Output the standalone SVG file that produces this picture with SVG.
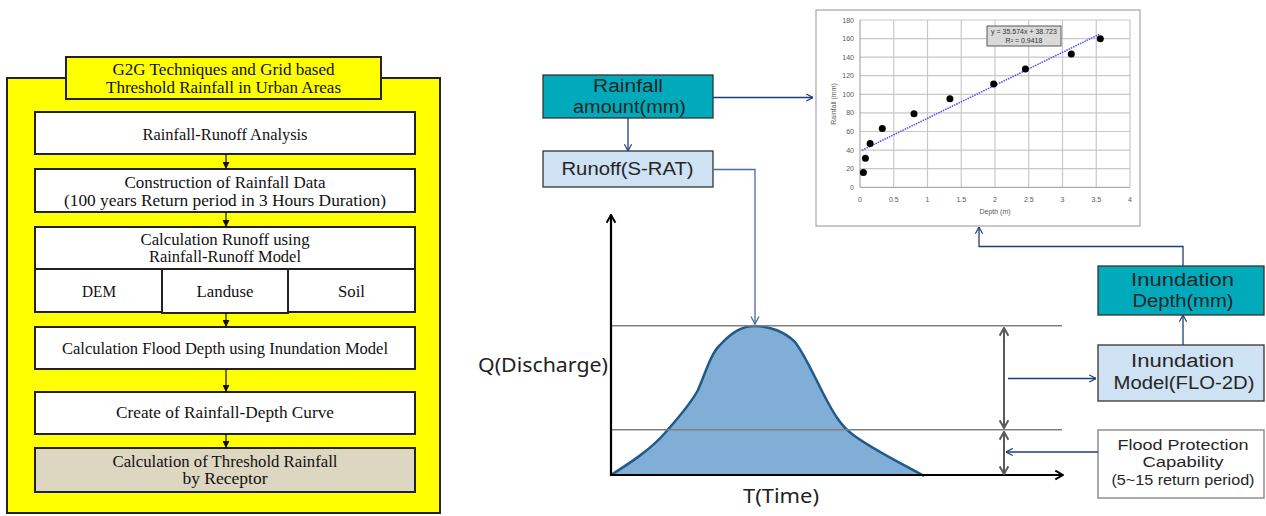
<svg xmlns="http://www.w3.org/2000/svg" width="1266" height="516" viewBox="0 0 1266 516">
<defs>
<style>
.lt{font-family:"Liberation Serif","Times New Roman",serif;font-size:16px;fill:#111;text-anchor:middle}
.bx{fill:#fff;stroke:#222;stroke-width:2}
.rt{font-family:"Liberation Sans",Arial,sans-serif;fill:#262626;text-anchor:middle}
.ax{font-family:"Noto Sans","DejaVu Sans",sans-serif;fill:#222;text-anchor:middle;font-size:20px}
.ct{font-family:"Liberation Sans",Arial,sans-serif;font-size:7px;fill:#595959}
.grid{stroke:#c8c8c8;stroke-width:1.2}
.nav{stroke:#1f3d7a;stroke-width:1.3;fill:none}
.dot{fill:#000}
</style>
<marker id="tri" viewBox="0 0 10 10" refX="10" refY="5" markerWidth="7" markerHeight="7" markerUnits="userSpaceOnUse" orient="auto"><path d="M0,0 L10,5 L0,10 Z" fill="#111"/></marker>
<marker id="openN" viewBox="0 0 10 10" refX="9.5" refY="5" markerWidth="9" markerHeight="9" markerUnits="userSpaceOnUse" orient="auto"><path d="M2,1 L9.5,5 L2,9" fill="none" stroke="#1f3d7a" stroke-width="1.3"/></marker>
<marker id="openL" viewBox="0 0 10 10" refX="9.5" refY="5" markerWidth="10" markerHeight="10" markerUnits="userSpaceOnUse" orient="auto"><path d="M2,1 L9.5,5 L2,9" fill="none" stroke="#4a6aa8" stroke-width="1.3"/></marker>
<marker id="openK" viewBox="0 0 10 10" refX="9" refY="5" markerWidth="11" markerHeight="11" markerUnits="userSpaceOnUse" orient="auto"><path d="M2,1 L9,5 L2,9" fill="none" stroke="#000" stroke-width="1.8"/></marker>
<marker id="openG" viewBox="0 0 10 10" refX="9" refY="5" markerWidth="11" markerHeight="11" markerUnits="userSpaceOnUse" orient="auto-start-reverse"><path d="M2,1 L9,5 L2,9" fill="none" stroke="#595959" stroke-width="1.8"/></marker>
</defs>

<!-- Left panel -->
<g id="panel">
<rect x="7" y="78" width="433" height="435" fill="#ffff00" stroke="#222" stroke-width="2"/>
</g>
<g id="title">
<rect x="66" y="57" width="315" height="42" fill="#ffff00" stroke="#222" stroke-width="2"/>
<text class="lt" x="223.5" y="75" textLength="222" lengthAdjust="spacingAndGlyphs">G2G Techniques and Grid based</text>
<text class="lt" x="223.5" y="93" textLength="235" lengthAdjust="spacingAndGlyphs">Threshold Rainfall in  Urban Areas</text>
</g>
<g id="box1"><rect class="bx" x="35" y="112" width="380" height="42"/><text class="lt" x="225" y="140" textLength="165" lengthAdjust="spacingAndGlyphs">Rainfall-Runoff Analysis</text></g>
<g id="box2"><rect class="bx" x="35" y="169" width="380" height="43"/><text class="lt" x="225" y="188" textLength="201" lengthAdjust="spacingAndGlyphs">Construction of Rainfall Data</text><text class="lt" x="225" y="206" textLength="322" lengthAdjust="spacingAndGlyphs">(100 years Return period in 3  Hours Duration)</text></g>
<g id="box3"><rect class="bx" x="35" y="227" width="380" height="42"/><text class="lt" x="225" y="245" textLength="169" lengthAdjust="spacingAndGlyphs">Calculation Runoff using</text><text class="lt" x="225" y="262" textLength="152" lengthAdjust="spacingAndGlyphs">Rainfall-Runoff Model</text></g>
<g id="dem"><rect class="bx" x="35" y="269" width="127" height="43"/><text class="lt" x="99" y="297" textLength="34" lengthAdjust="spacingAndGlyphs">DEM</text></g>
<g id="soil"><rect class="bx" x="288" y="269" width="127" height="43"/><text class="lt" x="351.5" y="297" textLength="27" lengthAdjust="spacingAndGlyphs">Soil</text></g>
<g id="landuse"><rect class="bx" x="162" y="269" width="126" height="44"/><text class="lt" x="225" y="297" textLength="57" lengthAdjust="spacingAndGlyphs">Landuse</text></g>
<g id="box4"><rect class="bx" x="35" y="327" width="380" height="42"/><text class="lt" x="225" y="354" textLength="326" lengthAdjust="spacingAndGlyphs">Calculation Flood Depth using Inundation Model</text></g>
<g id="box5"><rect class="bx" x="35" y="392" width="380" height="42"/><text class="lt" x="225" y="418" textLength="218" lengthAdjust="spacingAndGlyphs">Create of Rainfall-Depth Curve</text></g>
<g id="box6"><rect class="bx" x="35" y="448" width="380" height="44" style="fill:#ddd6c1"/><text class="lt" x="225" y="467" textLength="225" lengthAdjust="spacingAndGlyphs">Calculation of Threshold Rainfall</text><text class="lt" x="225" y="484" textLength="85" lengthAdjust="spacingAndGlyphs">by Receptor</text></g>

<!-- Chart -->
<g id="chart">
<rect x="816" y="10" width="324" height="216" fill="#fff" stroke="#a6a6a6" stroke-width="1.2"/>
<g class="grid">
<line x1="860" y1="20" x2="1130" y2="20"/><line x1="860" y1="38.6" x2="1130" y2="38.6"/><line x1="860" y1="57.2" x2="1130" y2="57.2"/><line x1="860" y1="75.7" x2="1130" y2="75.7"/><line x1="860" y1="94.3" x2="1130" y2="94.3"/><line x1="860" y1="112.9" x2="1130" y2="112.9"/><line x1="860" y1="131.5" x2="1130" y2="131.5"/><line x1="860" y1="150.1" x2="1130" y2="150.1"/><line x1="860" y1="168.7" x2="1130" y2="168.7"/>
<line x1="893.75" y1="20" x2="893.75" y2="187.3"/><line x1="927.5" y1="20" x2="927.5" y2="187.3"/><line x1="961.25" y1="20" x2="961.25" y2="187.3"/><line x1="995" y1="20" x2="995" y2="187.3"/><line x1="1028.75" y1="20" x2="1028.75" y2="187.3"/><line x1="1062.5" y1="20" x2="1062.5" y2="187.3"/><line x1="1096.25" y1="20" x2="1096.25" y2="187.3"/><line x1="1130" y1="20" x2="1130" y2="187.3"/>
</g>
<line x1="860" y1="20" x2="860" y2="187.3" stroke="#999" stroke-width="1"/>
<line x1="860" y1="187.3" x2="1130" y2="187.3" stroke="#999" stroke-width="1"/>
<g class="ct" text-anchor="end">
<text x="854" y="22.5">180</text><text x="854" y="41">160</text><text x="854" y="59.7">140</text><text x="854" y="78.2">120</text><text x="854" y="96.8">100</text><text x="854" y="115.4">80</text><text x="854" y="134">60</text><text x="854" y="152.6">40</text><text x="854" y="171.2">20</text><text x="854" y="189.8">0</text>
</g>
<g class="ct" text-anchor="middle">
<text x="860" y="202">0</text><text x="893.75" y="202">0.5</text><text x="927.5" y="202">1</text><text x="961.25" y="202">1.5</text><text x="995" y="202">2</text><text x="1028.75" y="202">2.5</text><text x="1062.5" y="202">3</text><text x="1096.25" y="202">3.5</text><text x="1130" y="202">4</text>
<text x="995" y="214">Depth (m)</text>
<text x="0" y="0" transform="translate(836,104) rotate(-90)">Rainfall (mm)</text>
</g>
<line x1="862" y1="150.3" x2="1099.6" y2="34.2" stroke="#4d4dff" stroke-width="1.5" stroke-dasharray="1.5,1"/>
<g>
<circle class="dot" cx="863.4" cy="172.4" r="3.5"/><circle class="dot" cx="865.4" cy="158.3" r="3.5"/><circle class="dot" cx="870.1" cy="143.6" r="3.5"/><circle class="dot" cx="882.3" cy="128.5" r="3.5"/><circle class="dot" cx="914" cy="113.8" r="3.5"/><circle class="dot" cx="949.9" cy="98.8" r="3.5"/><circle class="dot" cx="993.7" cy="84" r="3.5"/><circle class="dot" cx="1025.4" cy="69" r="3.5"/><circle class="dot" cx="1071.3" cy="54" r="3.5"/><circle class="dot" cx="1100.3" cy="38.8" r="3.5"/>
</g>
<rect x="987" y="26" width="74" height="20" fill="#d9d9d9" stroke="#595959" stroke-width="1"/>
<text class="ct" x="1024" y="34" text-anchor="middle" style="fill:#333">y = 35.574x + 38.723</text>
<text class="ct" x="1024" y="43" text-anchor="middle" style="fill:#333">R² = 0.9418</text>
</g>

<!-- Right boxes -->
<g id="rainfall"><rect x="543" y="75" width="170" height="43" fill="#00aabb" stroke="#333" stroke-width="1.3"/><text class="rt" x="628" y="92" font-size="18" textLength="70" lengthAdjust="spacingAndGlyphs">Rainfall</text><text class="rt" x="629.5" y="113" font-size="18" textLength="113" lengthAdjust="spacingAndGlyphs">amount(mm)</text></g>
<g id="runoff"><rect x="543" y="151" width="170" height="36" fill="#cfe2f3" stroke="#333" stroke-width="1.3"/><text class="rt" x="627.5" y="175" font-size="18" textLength="132" lengthAdjust="spacingAndGlyphs">Runoff(S-RAT)</text></g>
<g id="depth"><rect x="1098" y="266" width="166" height="49" fill="#00aabb" stroke="#333" stroke-width="1.3"/><text class="rt" x="1182.5" y="286" font-size="18" textLength="103" lengthAdjust="spacingAndGlyphs">Inundation</text><text class="rt" x="1183" y="307" font-size="18" textLength="101" lengthAdjust="spacingAndGlyphs">Depth(mm)</text></g>
<g id="model"><rect x="1098" y="345" width="166" height="56" fill="#cfe2f3" stroke="#333" stroke-width="1.3"/><text class="rt" x="1182.5" y="367" font-size="18" textLength="103" lengthAdjust="spacingAndGlyphs">Inundation</text><text class="rt" x="1184" y="389" font-size="18" textLength="141" lengthAdjust="spacingAndGlyphs">Model(FLO-2D)</text></g>
<g id="protection"><rect x="1098" y="430" width="166" height="68" fill="#fff" stroke="#7f7f7f" stroke-width="1.3"/><text class="rt" x="1183" y="450" font-size="14" textLength="131" lengthAdjust="spacingAndGlyphs">Flood Protection</text><text class="rt" x="1183" y="467" font-size="14" textLength="81" lengthAdjust="spacingAndGlyphs">Capability</text><text class="rt" x="1183" y="485" font-size="14" textLength="143" lengthAdjust="spacingAndGlyphs">(5~15 return period)</text></g>

<!-- Hydrograph -->
<g id="hydrograph">
<path d="M611,475 C630,463 650,450 665,433 C678,418 690,405 698,390 C706,372 710,355 720,345 C732,332 742,326 755,326 C770,326 785,332 795,342 C805,355 815,378 825,397 C833,412 840,425 852,434 C870,448 895,460 924,476 L611,476 Z" fill="#80aed7" stroke="none"/>
<path d="M611,475 C630,463 650,450 665,433 C678,418 690,405 698,390 C706,372 710,355 720,345 C732,332 742,326 755,326 C770,326 785,332 795,342 C805,355 815,378 825,397 C833,412 840,425 852,434 C870,448 895,460 924,476" fill="none" stroke="#1f5a88" stroke-width="2.5"/>
<line x1="610" y1="325.7" x2="1062" y2="325.7" stroke="#808080" stroke-width="1.4"/>
<line x1="610" y1="429.7" x2="1062" y2="429.7" stroke="#808080" stroke-width="1.4"/>
<line x1="611" y1="476" x2="611" y2="215" stroke="#000" stroke-width="2.2" marker-end="url(#openK)"/>
<line x1="610" y1="475" x2="1063" y2="475" stroke="#000" stroke-width="2.2" marker-end="url(#openK)"/>
<line x1="1004" y1="328" x2="1004" y2="428" stroke="#595959" stroke-width="2" marker-start="url(#openG)" marker-end="url(#openG)"/>
<line x1="1004" y1="432" x2="1004" y2="474" stroke="#595959" stroke-width="2" marker-start="url(#openG)" marker-end="url(#openG)"/>
<text class="ax" x="543" y="372" textLength="130" lengthAdjust="spacingAndGlyphs">Q(Discharge)</text>
<text class="ax" x="781" y="503" textLength="76" lengthAdjust="spacingAndGlyphs">T(Time)</text>
</g>

<!-- Connectors -->
<g id="connectors">
<line x1="226" y1="154" x2="226" y2="169" stroke="#111" stroke-width="1.2" marker-end="url(#tri)"/>
<line x1="226" y1="212" x2="226" y2="227" stroke="#111" stroke-width="1.2" marker-end="url(#tri)"/>
<line x1="226" y1="313" x2="226" y2="327" stroke="#111" stroke-width="1.2" marker-end="url(#tri)"/>
<line x1="226" y1="369" x2="226" y2="392" stroke="#111" stroke-width="1.2" marker-end="url(#tri)"/>
<line x1="226" y1="434" x2="226" y2="448" stroke="#111" stroke-width="1.2" marker-end="url(#tri)"/>
<line class="nav" x1="628" y1="118" x2="628" y2="151" marker-end="url(#openN)"/>
<line class="nav" x1="713" y1="97.5" x2="813" y2="97.5" marker-end="url(#openN)"/>
<polyline points="713,169.5 755,169.5 755,324" fill="none" stroke="#4a6aa8" stroke-width="1.3" marker-end="url(#openL)"/>
<polyline class="nav" points="1183,266 1183,246.5 979,246.5 979,227" marker-end="url(#openN)"/>
<line class="nav" x1="1183" y1="345" x2="1183" y2="315" marker-end="url(#openN)"/>
<line class="nav" x1="1008" y1="378.5" x2="1096" y2="378.5" marker-end="url(#openN)"/>
<line class="nav" x1="1098" y1="452" x2="1006" y2="452" marker-end="url(#openN)"/>
</g>
</svg>
